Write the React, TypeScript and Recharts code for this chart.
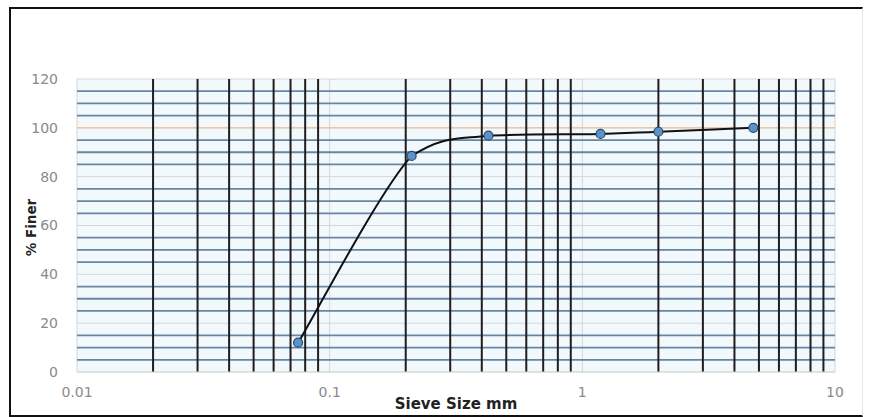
import React from "react";
import {
  LineChart,
  Line,
  XAxis,
  YAxis,
  CartesianGrid,
  ReferenceLine,
} from "recharts";

const sieveSizes = [0.075, 0.211, 0.425, 1.18, 2.0, 4.75];
const percentFiner = [12, 88.5, 96.8, 97.5, 98.4, 100];

const xTicks = [0.01, 0.1, 1, 10];
const yTicks = [0, 20, 40, 60, 80, 100, 120];
const minorX = [
  0.02, 0.03, 0.04, 0.05, 0.06, 0.07, 0.08, 0.09,
  0.2, 0.3, 0.4, 0.5, 0.6, 0.7, 0.8, 0.9,
  2, 3, 4, 5, 6, 7, 8, 9,
];
const minorY = [5, 10, 15, 25, 30, 35, 45, 50, 55, 65, 70, 75, 85, 90, 95, 105, 110, 115];
const highlightY = [100];

const data = sieveSizes.map((s, i) => ({ size: s, finer: percentFiner[i] }));

// Excel-style smoothed line (Catmull-Rom through the points, control points clamped to each segment)
const excelSmooth: any = (context: any) => {
  let pts: number[][] = [];
  const clamp = (v: number, a: number, b: number) =>
    Math.max(Math.min(a, b), Math.min(Math.max(a, b), v));
  return {
    areaStart() {},
    areaEnd() {},
    lineStart() {
      pts = [];
    },
    point(x: number, y: number) {
      pts.push([+x, +y]);
    },
    lineEnd() {
      const n = pts.length;
      if (!n) return;
      context.moveTo(pts[0][0], pts[0][1]);
      for (let i = 0; i < n - 1; i++) {
        const p0 = pts[Math.max(i - 1, 0)];
        const p1 = pts[i];
        const p2 = pts[i + 1];
        const p3 = pts[Math.min(i + 2, n - 1)];
        const c1x = clamp(p1[0] + (p2[0] - p0[0]) / 6, p1[0], p2[0]);
        const c1y = clamp(p1[1] + (p2[1] - p0[1]) / 6, p1[1], p2[1]);
        const c2x = clamp(p2[0] - (p3[0] - p1[0]) / 6, p1[0], p2[0]);
        const c2y = clamp(p2[1] - (p3[1] - p1[1]) / 6, p1[1], p2[1]);
        context.bezierCurveTo(c1x, c1y, c2x, c2y, p2[0], p2[1]);
      }
    },
  };
};

const tickStyle = { fontFamily: "DejaVu Sans", fontSize: 14, fill: "#8a8a8a" };

const fmt = (v: number) => String(v);

export default function App() {
  return (
    <div
      style={{
        position: "absolute",
        left: 0,
        top: 0,
        width: 869,
        height: 417,
        background: "#fff",
        overflow: "hidden",
      }}
    >
      <div
        style={{
          position: "absolute",
          left: 9,
          top: 7,
          width: 851,
          height: 406,
          borderLeft: "2px solid #111",
          borderTop: "2px solid #111",
          borderBottom: "2px solid #111",
          borderRight: "1px solid #e6e6e6",
        }}
      />
      <div style={{ position: "absolute", left: 0, top: 0 }}>
        <LineChart
          width={869}
          height={417}
          data={data}
          margin={{ top: 79, right: 34, bottom: 15, left: 37 }}
        >
          <CartesianGrid
            stroke="#d6d6d6"
            strokeWidth={1}
            fill="#f2f9fd"
            fillOpacity={1}
          />
          {minorY.map((v) => (
            <ReferenceLine
              key={"hy" + v}
              y={v}
              stroke="#6885a3"
              strokeWidth={1.8}
            />
          ))}
          {highlightY.map((v) => (
            <ReferenceLine key={"hl" + v} y={v} stroke="#f2c3a3" strokeWidth={1.5} />
          ))}
          {minorX.map((v) => (
            <ReferenceLine key={"vx" + v} x={v} stroke="#1e1e1e" strokeWidth={2} />
          ))}
          <XAxis
            dataKey="size"
            type="number"
            scale="log"
            domain={[0.01, 10]}
            ticks={xTicks}
            allowDataOverflow
            tickFormatter={fmt}
            tick={tickStyle}
            tickLine={false}
            tickSize={0}
            tickMargin={15}
            axisLine={{ stroke: "#d6d6d6" }}
            height={30}
            label={{
              value: "Sieve Size mm",
              position: "insideBottom",
              offset: -7,
              style: {
                fontFamily: "DejaVu Sans",
                fontWeight: "bold",
                fontSize: 15,
                fill: "#222",
              },
            }}
          />
          <YAxis
            type="number"
            domain={[0, 120]}
            ticks={yTicks}
            tick={tickStyle}
            tickLine={false}
            tickSize={0}
            tickMargin={19}
            axisLine={false}
            width={40}
            label={{
              value: "% Finer",
              angle: -90,
              position: "insideLeft",
              offset: -6,
              dy: 2,
              style: {
                fontFamily: "DejaVu Sans",
                fontWeight: "bold",
                fontSize: 13.5,
                fill: "#222",
                textAnchor: "middle",
              },
            }}
          />
          <Line
            dataKey="finer"
            type={excelSmooth}
            stroke="#111"
            strokeWidth={2}
            isAnimationActive={false}
            dot={{ r: 4.5, fill: "#5b93c8", stroke: "#2b4a6b", strokeWidth: 1.2 }}
            activeDot={false}
          />
        </LineChart>
      </div>
    </div>
  );
}
